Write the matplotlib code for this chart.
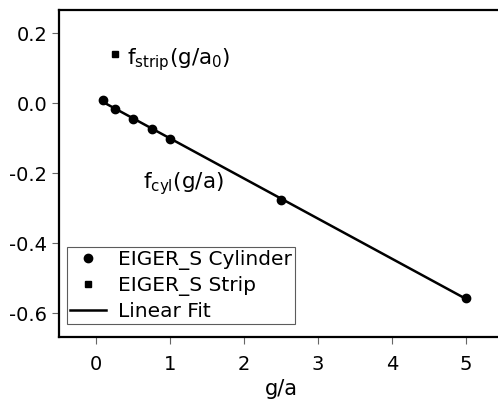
import numpy as np
import matplotlib
matplotlib.use("Agg")
import matplotlib.pyplot as plt

# Data
cyl_x = [0.1, 0.25, 0.5, 0.75, 1.0, 2.5, 5.0]
cyl_y = [0.011, -0.016, -0.045, -0.072, -0.102, -0.275, -0.557]
strip_x = [0.25]
strip_y = [0.141]
xticks = [0, 1, 2, 3, 4, 5]
yticks = [0.2, 0.0, -0.2, -0.4, -0.6]

plt.rcParams['font.family'] = ['DejaVu Sans']
plt.rcParams['mathtext.fontset'] = 'custom'
plt.rcParams['mathtext.rm'] = 'DejaVu Sans'
plt.rcParams['mathtext.default'] = 'regular'

fig = plt.figure(figsize=(4.98, 3.99), dpi=100)
ax = fig.add_axes([59/498, 1-337/399, (503-59)/498, (337-10)/399])

# Linear fit over cylinder data
coef = np.polyfit(cyl_x, cyl_y, 1)
fx = np.array([min(cyl_x), max(cyl_x)])
ax.plot(fx, np.polyval(coef, fx), color='black', lw=1.8, label='Linear Fit', zorder=2)
ax.plot(cyl_x, cyl_y, 'o', color='black', ms=6, label='EIGER_S Cylinder', zorder=3)
ax.plot(strip_x, strip_y, 's', color='black', ms=4.2, label='EIGER_S Strip', zorder=3)

ax.set_xlim(-0.5, 5.5)
ax.set_ylim(-0.668, 0.267)
ax.set_xticks(xticks)
ax.set_yticks(yticks)
ax.set_xticklabels([str(t) for t in xticks])
ax.set_yticklabels(['%.1f' % t for t in yticks])
ax.tick_params(direction='out', length=5, width=0.8, color='#666666',
               labelsize=14)
ax.tick_params(axis='x', pad=8)
ax.tick_params(axis='y', pad=3.5)
for s in ax.spines.values():
    s.set_linewidth(1.6)

ax.set_xlabel('g/a', fontsize=15, labelpad=3.6)

ax.text(0.42, 0.125, r'f$_{\mathrm{strip}}$(g/a$_0$)', fontsize=15.5, va='center', ha='left')
ax.text(0.63, -0.23, r'f$_{\mathrm{cyl}}$(g/a)', fontsize=15.5, va='center', ha='left')

handles, labels = ax.get_legend_handles_labels()
order = [1, 2, 0]
leg = ax.legend([handles[i] for i in order], [labels[i] for i in order],
                loc='lower left', bbox_to_anchor=(8/444, 13/327),
                fontsize=14.5, frameon=True, fancybox=False, edgecolor='#333333',
                borderaxespad=0, handlelength=1.8, handletextpad=0.6,
                labelspacing=0.3, borderpad=0.15)
leg.get_frame().set_linewidth(0.8)

fig.savefig('out.png', dpi=100)
